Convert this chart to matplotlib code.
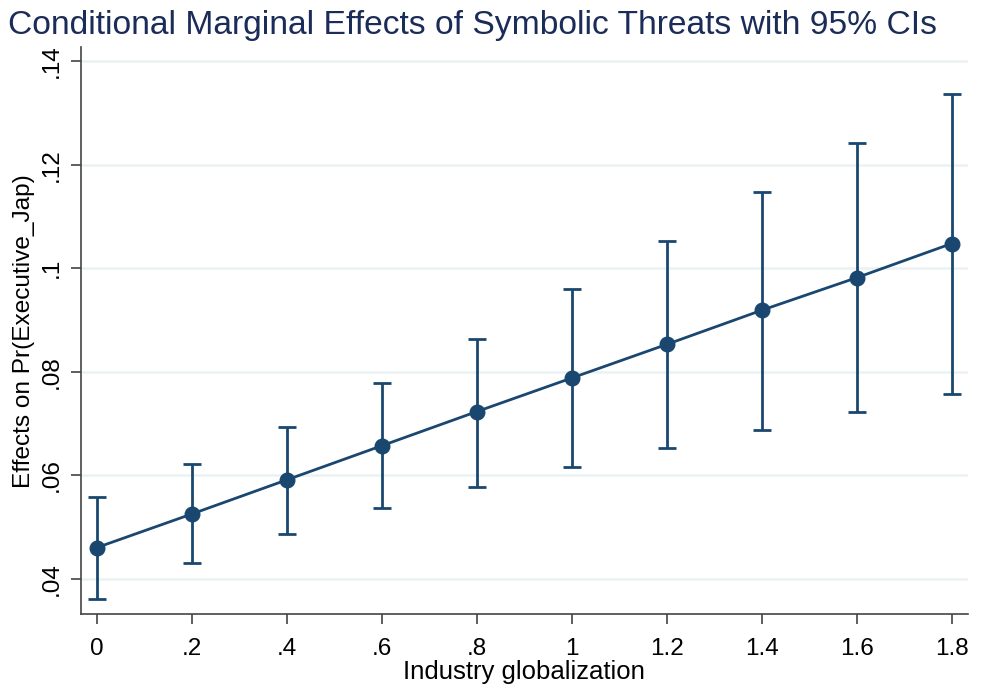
import numpy as np
import matplotlib.pyplot as plt

plt.rcParams['font.family'] = ['Liberation Sans', 'DejaVu Sans']

# Werte
globalization = [0, 0.2, 0.4, 0.6, 0.8, 1.0, 1.2, 1.4, 1.6, 1.8]
effect = [0.0460, 0.0525, 0.0591, 0.0657, 0.0723, 0.0788, 0.0853, 0.0919, 0.0982, 0.1048]
ci_low = [0.0360, 0.0431, 0.0487, 0.0536, 0.0577, 0.0616, 0.0652, 0.0688, 0.0723, 0.0757]
ci_high = [0.0558, 0.0621, 0.0694, 0.0778, 0.0864, 0.0960, 0.1053, 0.1148, 0.1243, 0.1338]

x_ticks = [0, 0.2, 0.4, 0.6, 0.8, 1.0, 1.2, 1.4, 1.6, 1.8]
x_labels = ['0', '.2', '.4', '.6', '.8', '1', '1.2', '1.4', '1.6', '1.8']
y_ticks = [0.04, 0.06, 0.08, 0.1, 0.12, 0.14]
y_labels = ['.04', '.06', '.08', '.1', '.12', '.14']

navy = '#1a476f'

fig = plt.figure(figsize=(9.85, 6.86), dpi=100)
ax = fig.add_axes([0.0819, 0.1045, 0.9008, 0.827])

effect = np.array(effect)
yerr = [effect - np.array(ci_low), np.array(ci_high) - effect]
ax.errorbar(globalization, effect, yerr=yerr, color=navy, lw=2.0, marker='o',
            markersize=10.5, capsize=6.5, capthick=2.0, elinewidth=2.0, zorder=3)

ax.set_xlim(-0.034, 1.834)
ax.set_ylim(0.0331, 0.1428)
ax.set_xticks(x_ticks)
ax.set_xticklabels(x_labels)
ax.set_yticks(y_ticks)
ax.set_yticklabels(y_labels, rotation=90, va='center')

ax.grid(axis='y', color='#eaf2f3', lw=1.8, zorder=0)
ax.set_axisbelow(True)
for side in ['top', 'right']:
    ax.spines[side].set_visible(False)
for side in ['left', 'bottom']:
    ax.spines[side].set_color('#444444')
    ax.spines[side].set_linewidth(1.2)

ax.tick_params(axis='both', length=7, width=1.2, color='#444444', labelsize=17.5)
ax.tick_params(axis='x', pad=10)
ax.tick_params(axis='y', pad=6)
ax.set_xlabel('Industry globalization', fontsize=18.5, labelpad=0)
ax.set_ylabel('Effects on Pr(Executive_Jap)', fontsize=17.6, labelpad=4)
ax.set_title('Conditional Marginal Effects of Symbolic Threats with 95% CIs',
             fontsize=24.2, color='#1a2c57', pad=9, x=0.442)

plt.savefig('out.png', dpi=100)
